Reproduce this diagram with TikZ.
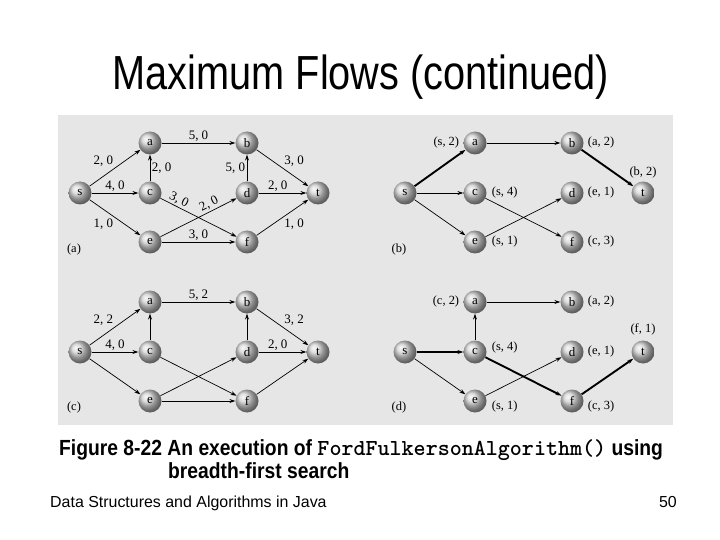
\documentclass[tikz,border=0pt]{standalone}
\usepackage{fontspec}
\setmainfont{Liberation Serif}
\setsansfont{Liberation Sans}
\usepackage{graphicx}
\usetikzlibrary{positioning,arrows.meta,shadings}
\definecolor{panelgray}{HTML}{E6E6E6}
\definecolor{ballgray}{HTML}{D2D2D2}
% the eight vertices of one network, s at the local origin
\newcommand{\flownodes}[1]{%
  \node[vtx] (s#1) at (0,0) {s};
  \node[vtx] (a#1) at (70,-50) {a};
  \node[vtx] (b#1) at (167,-50) {b};
  \node[vtx] (c#1) at (70,0) {c};
  \node[vtx] (d#1) at (167,0) {d};
  \node[vtx] (t#1) at (238,0) {t};
  \node[vtx] (e#1) at (70,49) {e};
  \node[vtx] (f#1) at (167,49) {f};
}

\begin{document}
\begin{tikzpicture}[
  x=1bp, y=-1bp,
  vtx/.style={circle, minimum size=23bp, inner sep=0pt, shading=ball, ball color=ballgray, font=\fontsize{13}{15}\selectfont},
  arr/.style={-{Stealth[length=6pt,width=4pt]}, line width=0.7pt},
  hot/.style={arr, line width=1.9pt},
  lab/.style={font=\fontsize{13}{15}\selectfont, inner sep=1.5pt},
  tag/.style={font=\fontsize{12.5}{15}\selectfont, inner sep=1pt},
  slide/.style={inner sep=0pt, font=\sffamily},
]
  \useasboundingbox (0,0) rectangle (720,540);
  \fill[panelgray] (58,115) rectangle (673,425);

  \node[slide, anchor=base, font=\sffamily\fontsize{48}{58}\selectfont] (title) at (361,90) {\scalebox{0.83}[1]{Maximum Flows (continued)}};

  % (a) network with capacities, zero flow
  \begin{scope}[shift={(80,193)}]
    \flownodes{1}
    \node[tag] (tag-a) at (-6,57) {(a)};
    \draw[arr] (s1) -- node[lab, above left] {2, 0} (a1);
    \draw[arr] (s1) -- node[lab, above] {4, 0} (c1);
    \draw[arr] (s1) -- node[lab, below left] {1, 0} (e1);
    \draw[arr] (c1) -- node[lab, right] {2, 0} (a1);
    \draw[arr] (a1) -- node[lab, above] {5, 0} (b1);
    \draw[arr] (c1) -- node[lab, sloped, above, pos=0.2] {3, 0} (f1);
    \draw[arr] (e1) -- node[lab, sloped, above, pos=0.68] {2, 0} (d1);
    \draw[arr] (e1) -- node[lab, above] {3, 0} (f1);
    \draw[arr] (d1) -- node[lab, left] {5, 0} (b1);
    \draw[arr] (b1) -- node[lab, above right] {3, 0} (t1);
    \draw[arr] (d1) -- node[lab, above, pos=0.4] {2, 0} (t1);
    \draw[arr] (f1) -- node[lab, below right] {1, 0} (t1);
  \end{scope}

  % (b) first breadth-first labelling
  \begin{scope}[shift={(405,193)}]
    \flownodes{2}
    \node[tag] (tag-b) at (-6,57) {(b)};
    \draw[hot] (s2) -- (a2);
    \draw[arr] (s2) -- (c2);
    \draw[arr] (s2) -- (e2);
    \draw[arr] (a2) -- (b2);
    \draw[hot] (b2) -- (t2);
    \draw[arr] (c2) -- (f2);
    \draw[arr] (e2) -- (d2);
    \node[tag, left=3pt of a2] (pa2) {(s, 2)};
    \node[tag, right=3pt of b2] (pb2) {(a, 2)};
    \node[tag, above=2pt of t2] (pt2) {(b, 2)};
    \node[tag, right=4pt of c2] (pc2) {(s, 4)};
    \node[tag, right=3pt of d2] (pd2) {(e, 1)};
    \node[tag, right=4pt of e2] (pe2) {(s, 1)};
    \node[tag, right=3pt of f2] (pf2) {(c, 3)};
  \end{scope}

  % (c) after augmenting along s-a-b-t
  \begin{scope}[shift={(80,352)}]
    \flownodes{3}
    \node[tag] (tag-c) at (-6,56) {(c)};
    \draw[arr] (s3) -- node[lab, above left] {2, 2} (a3);
    \draw[arr] (s3) -- node[lab, above] {4, 0} (c3);
    \draw[arr] (s3) -- (e3);
    \draw[arr] (c3) -- (a3);
    \draw[arr] (a3) -- node[lab, above] {5, 2} (b3);
    \draw[arr] (c3) -- (f3);
    \draw[arr] (e3) -- (d3);
    \draw[arr] (e3) -- (f3);
    \draw[arr] (d3) -- (b3);
    \draw[arr] (b3) -- node[lab, above right] {3, 2} (t3);
    \draw[arr] (d3) -- node[lab, above, pos=0.4] {2, 0} (t3);
    \draw[arr] (f3) -- (t3);
  \end{scope}

  % (d) second breadth-first labelling
  \begin{scope}[shift={(405,352)}]
    \flownodes{4}
    \node[tag] (tag-d) at (-6,56) {(d)};
    \draw[arr] (a4) -- (b4);
    \draw[arr] (c4) -- (a4);
    \draw[hot] (s4) -- (c4);
    \draw[arr] (s4) -- (e4);
    \draw[hot] (c4) -- (f4);
    \draw[arr] (e4) -- (d4);
    \draw[hot] (f4) -- (t4);
    \node[tag, left=3pt of a4] (pa4) {(c, 2)};
    \node[tag, right=3pt of b4] (pb4) {(a, 2)};
    \node[tag, above=4pt of t4] (pt4) {(f, 1)};
    \node[tag, right=4pt of c4, yshift=5pt] (pc4) {(s, 4)};
    \node[tag, right=3pt of d4] (pd4) {(e, 1)};
    \node[tag, right=4pt of e4, yshift=-6pt] (pe4) {(s, 1)};
    \node[tag, right=3pt of f4, yshift=-6pt] (pf4) {(c, 3)};
  \end{scope}

  \node[slide, anchor=base west, font=\sffamily\bfseries\fontsize{22}{26}\selectfont] (cap1) at (59,455)
    {\scalebox{0.88}[1]{Figure 8-22 An execution of\ }{\ttfamily\fontsize{23}{26}\selectfont FordFulkersonAlgorithm()}\scalebox{0.88}[1]{\ using}};
  \node[slide, anchor=base west, font=\sffamily\bfseries\fontsize{22}{26}\selectfont] (cap2) at (168,478)
    {\scalebox{0.88}[1]{breadth-first search}};
  \node[slide, anchor=base west, font=\sffamily\fontsize{16}{19}\selectfont] (foot) at (50,507) {Data Structures and Algorithms in Java};
  \node[slide, anchor=base east, font=\sffamily\fontsize{16}{19}\selectfont] (page) at (677,507) {50};
\end{tikzpicture}
\end{document}
